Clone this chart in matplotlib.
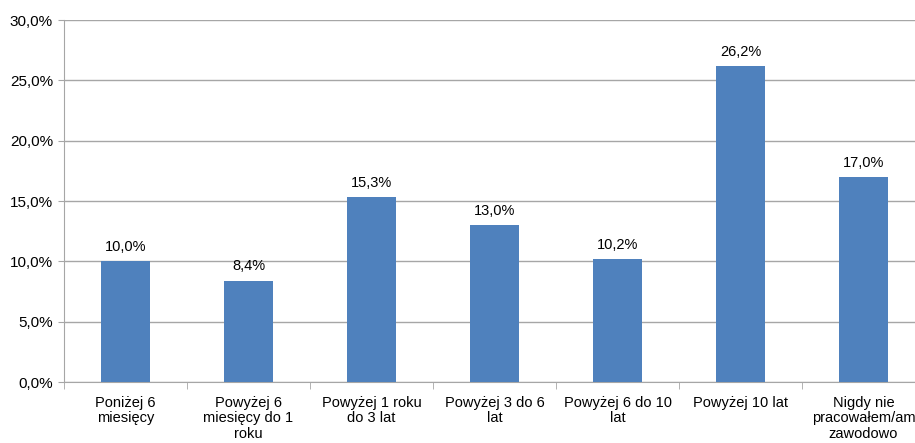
import numpy as np
import matplotlib.pyplot as plt
from matplotlib.ticker import FuncFormatter, FixedLocator

plt.rcParams['font.family'] = ['Liberation Sans', 'DejaVu Sans']

categories = ["Poniżej 6\nmiesięcy", "Powyżej 6\nmiesięcy do 1\nroku", "Powyżej 1 roku\ndo 3 lat",
              "Powyżej 3 do 6\nlat", "Powyżej 6 do 10\nlat", "Powyżej 10 lat",
              "Nigdy nie\npracowałem/am\nzawodowo"]
values = [10.0, 8.4, 15.3, 13.0, 10.2, 26.2, 17.0]

W, H = 915, 443
fig = plt.figure(figsize=(W / 100, H / 100), dpi=100)
# plot area runs a bit past the right edge, as in the original
left, right, top, bottom = 64, 925, 20, 382
ax = fig.add_axes([left / W, 1 - bottom / H, (right - left) / W, (bottom - top) / H])

x = np.arange(len(categories))
ax.bar(x, values, width=0.4, color='#4F81BD', zorder=3)
for xi, v in zip(x, values):
    ax.text(xi, v + 0.6, f"{v:.1f}%".replace('.', ','), ha='center', va='bottom', fontsize=10.5)

ax.set_xlim(-0.5, len(categories) - 0.5)
ax.set_ylim(0, 30)
ax.set_yticks(np.arange(0, 31, 5))
ax.yaxis.set_major_formatter(FuncFormatter(lambda v, p: f"{v:.1f}%".replace('.', ',')))
ax.yaxis.grid(True, color='#A6A6A6', linewidth=1, zorder=0)

ax.set_xticks(x)
ax.set_xticklabels(categories, fontsize=10.5, linespacing=1.12)
ax.tick_params(axis='x', which='major', length=0, pad=10)
ax.xaxis.set_minor_locator(FixedLocator(np.arange(-0.5, len(categories), 1)))
ax.tick_params(axis='x', which='minor', length=5, color='#A6A6A6')
ax.tick_params(axis='y', length=4, color='#A6A6A6', labelsize=11, pad=4)

for s in ['top', 'right']:
    ax.spines[s].set_visible(False)
for s in ['left', 'bottom']:
    ax.spines[s].set_color('#A6A6A6')

fig.savefig('out.png', dpi=100)
